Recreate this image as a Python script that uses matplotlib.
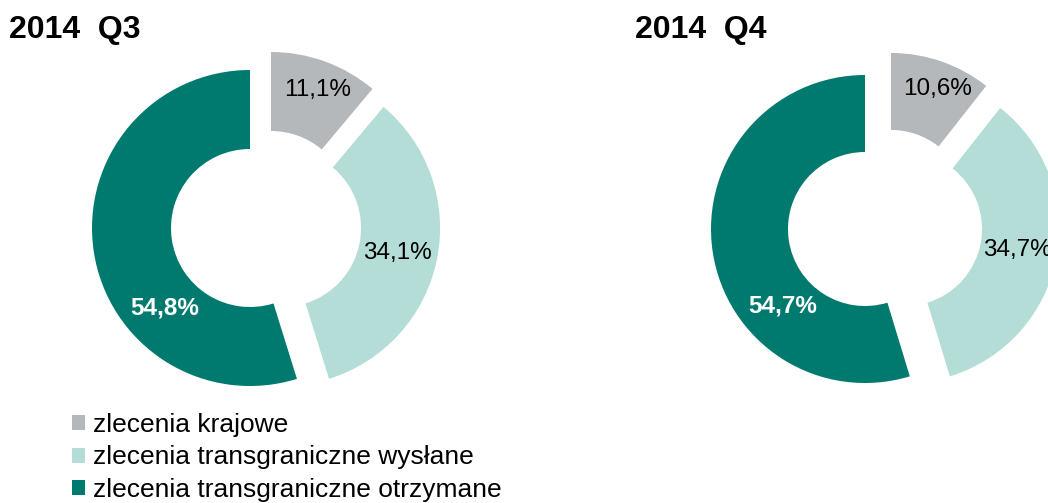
import matplotlib.pyplot as plt
from matplotlib.patches import Patch

# shares of payment orders per quarter
categories = ["zlecenia krajowe", "zlecenia transgraniczne wysłane",
              "zlecenia transgraniczne otrzymane"]
q3_values = [11.1, 34.1, 54.8]
q4_values = [10.6, 34.7, 54.7]
titles = ["2014  Q3", "2014  Q4"]

colors = ["#b5b8bb", "#b3ddd6", "#007a6e"]
text_colors = ["#000000", "#000000", "#ffffff"]
text_weights = ["normal", "normal", "bold"]

plt.rcParams["font.family"] = ["Liberation Sans", "DejaVu Sans"]

W, H = 1048, 503
fig = plt.figure(figsize=(W / 100, H / 100), dpi=100)


def donut(cx, cy, r, values, shifts, label_pos, title, title_x):
    # axes sized so that one data unit equals r pixels
    ax = fig.add_axes([(cx - 1.5 * r) / W, (H - cy - 1.5 * r) / H, 3 * r / W, 3 * r / H])
    wedges, _ = ax.pie(values, colors=colors, startangle=90, counterclock=False,
                       radius=1, wedgeprops=dict(width=0.5, linewidth=0))
    ax.set_xlim(-1.5, 1.5)
    ax.set_ylim(-1.5, 1.5)
    ax.set_aspect("equal")
    ax.axis("off")
    # pull the two smaller slices out of the ring
    for w, s in zip(wedges, shifts):
        w.set_center(s)
    for v, (x, y), c, fw in zip(values, label_pos, text_colors, text_weights):
        ax.text(x, y, f"{v:.1f}".replace(".", ",") + "%", ha="center", va="center",
                fontsize=17.5, color=c, fontweight=fw)
    fig.text(title_x / W, 1 - 30 / H, title, fontsize=23, fontweight="bold",
             ha="left", va="center")


donut(250, 228, 158, q3_values,
      [(0.133, 0.114), (0.203, 0.0), (0, 0)],
      [(0.43, 0.873), (0.93, -0.158), (-0.538, -0.506)],
      titles[0], 9)
donut(865, 229, 154, q4_values,
      [(0.169, 0.143), (0.26, 0.0), (0, 0)],
      [(0.468, 0.909), (0.987, -0.136), (-0.532, -0.5)],
      titles[1], 635)

handles = [Patch(facecolor=c, edgecolor="none") for c in colors]
fig.legend(handles, categories, loc="upper left", bbox_to_anchor=(72 / W, 1 - 413 / H),
           frameon=False, fontsize=19, handlelength=0.5, handleheight=0.5,
           handletextpad=0.3, labelspacing=0.32, borderpad=0, borderaxespad=0)

fig.savefig("out.png", dpi=100)
